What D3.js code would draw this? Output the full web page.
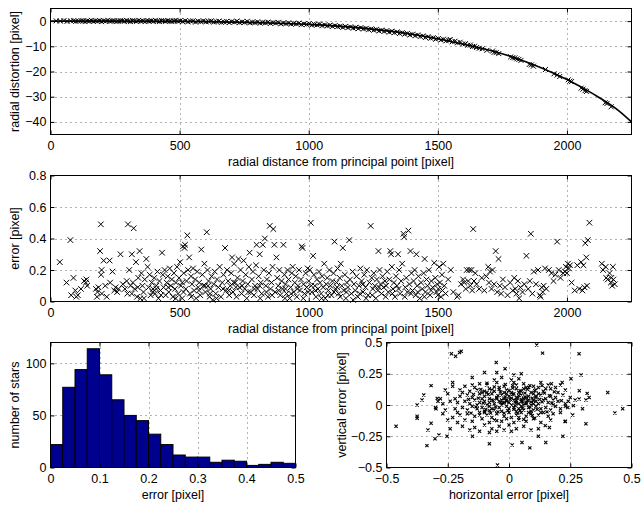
<!DOCTYPE html>
<html>
<head>
<meta charset="utf-8">
<script src="https://cdn.jsdelivr.net/npm/d3@7"></script>
<style>
body { margin: 0; background: #fff; }
svg text { font-family: "Liberation Sans", Arial, Helvetica, sans-serif; font-size: 12.5px; fill: #000; }
</style>
</head>
<body>
<div id="vis"></div>
<script>
// ---- data ----

// fitted distortion curve (radius, distortion)
const curvePoints = [[0,0],[200,0],[400,-0.05],[600,-0.2],[800,-0.6],[1000,-1.3],[1200,-2.7],[1400,-5.2],[1500,-7],
  [1600,-9.2],[1700,-11.6],[1800,-14.6],[1900,-18.5],[2000,-23.2],[2100,-28.8],[2200,-35.5],[2250,-40]];

// measured distortion of the stars (radius, distortion)
const distortionPoints = [[22,0.1],[38,0],[52,0.2],[64,-0.1],[78,0.1],[90,0.2],[98,-0.1],[108,0],[118,0.2],[126,0.1],[134,-0.2],[142,0.1],[150,0],[158,0.3],[166,-0.1],[174,0.1],[182,0],[190,0.2],[198,-0.2],[206,0.1],[214,0],[222,0.3],[230,-0.1],[238,0.1],[246,0.2],[254,-0.2],[262,0],[270,0.2],[278,0.1],[286,-0.1],[294,0.3],[302,0],[310,-0.2],[318,0.2],[326,0.1],[334,-0.1],[342,0.3],[350,0],[358,0.1],[366,-0.2],[374,0.2],[382,0],[390,0.1],[398,-0.1],[406,0.3],[414,0],[422,-0.2],[430,0.2],[438,0.1],[446,-0.1],[454,0.2],[462,0],[470,-0.2],[478,0.1],[486,0.3],[494,-0.1],
  [502,0.1],[512,-0.2],[522,0.2],[532,-0.3],[542,0],[552,0.1],[562,-0.4],[572,0],[582,-0.2],[592,0.1],[602,-0.3],[612,-0.1],[622,0.1],[632,-0.4],[642,-0.2],[652,0],[662,-0.5],[672,-0.3],[682,-0.1],[692,-0.6],[702,-0.2],[712,-0.4],[722,0],[732,-0.6],[742,-0.3],[752,-0.5],[762,-0.1],[772,-0.7],[782,-0.4],[792,-0.6],[802,-0.3],[812,-0.8],[822,-0.5],[832,-0.7],[842,-0.4],[852,-0.9],[862,-0.6],[872,-0.8],[882,-0.5],[892,-1.1],[902,-0.7],[912,-1.0],[922,-0.7],[932,-1.2],[942,-0.9],[952,-1.1],[962,-0.8],[972,-1.4],[982,-1.1],[992,-1.3],
  [1002,-1.0],[1012,-1.6],[1022,-1.3],[1032,-1.5],[1042,-1.2],[1052,-1.8],[1062,-1.5],[1072,-1.9],[1082,-1.6],[1092,-2.1],[1102,-1.8],[1112,-2.2],[1122,-2.0],[1132,-2.5],[1142,-2.1],[1152,-2.6],[1162,-2.3],[1172,-2.8],[1182,-2.5],[1192,-3.0],[1202,-2.6],[1212,-3.1],[1222,-2.9],[1232,-3.4],[1242,-3.1],[1252,-3.6],[1262,-3.3],[1272,-3.9],[1282,-3.6],[1292,-4.1],[1302,-3.8],[1312,-4.4],[1322,-4.0],[1332,-4.6],[1342,-4.3],[1352,-4.9],[1362,-4.6],[1372,-5.2],[1382,-4.9],[1392,-5.5],[1402,-5.2],[1412,-5.8],[1422,-5.5],[1432,-6.1],[1442,-5.9],[1452,-6.5],[1462,-6.2],[1472,-6.8],[1482,-6.6],[1492,-7.2],
  [1502,-6.9],[1512,-7.5],[1522,-7.2],[1532,-7.8],[1542,-7.6],[1548,-7.3],[1556,-8.2],[1566,-8.0],[1576,-8.6],[1586,-8.4],[1596,-9.1],[1606,-9.0],[1616,-9.6],[1626,-9.5],[1634,-10.1],[1642,-10.0],[1650,-10.5],[1660,-10.8],[1672,-11.0],[1690,-11.6],
  [1712,-11.9],[1718,-12.4],[1726,-12.5],[1736,-12.9],[1782,-14.2],[1790,-14.5],[1798,-14.6],[1806,-15.0],[1814,-15.2],[1822,-15.6],[1854,-17.2],[1862,-17.4],[1870,-17.9],[1917,-19.2],[1950,-20.9],[1962,-21.4],[1972,-22.0],[2005,-23.3],[2012,-23.8],[2018,-24.0],[2055,-26.6],[2062,-27.0],[2070,-27.6],[2076,-27.9],[2148,-32.4],[2155,-32.7],[2171,-34.0]];

// residual error of each star (radius, error)
const errorPoints = [[36,0.25],[62,0.12],[77,0.39],[80,0.04],[89,0.15],[96,0.07],[100,0.03],
  [106,0.04],[118,0.08],[130,0.13],[137,0.12],[139,0.14],[142,0.1],[176,0.08],[180,0.03],[182,0.06],[186,0.09],[192,0.32],[195,0.49],[196,0.17],[198,0.2],[199,0.05],
  [206,0.26],[212,0.1],[218,0.03],[229,0.26],[231,0.12],[240,0.19],[247,0.07],[252,0.09],[258,0.06],[263,0.08],[271,0.30],[280,0.11],[288,0.08],[295,0.13],[298,0.05],
  [300,0.49],[305,0.2],[310,0.1],[315,0.3],[319,0.12],[322,0.465],[326,0.08],[331,0.25],[335,0.03],[340,0.15],[345,0.32],[348,0.02],[352,0.18],[356,0.1],[360,0.06],[365,0.14],[371,0.27],[376,0.22],[380,0.09],[384,0.17],[388,0.04],[392,0.12],[397,0.08],
  [402,0.15],[405,0.05],[410,0.1],[414,0.19],[418,0.02],[422,0.13],[426,0.07],[432,0.31],[435,0.17],[438,0.09],[442,0.2],[446,0.04],[450,0.12],[454,0.16],[458,0.06],[462,0.21],[466,0.1],[470,0.14],[474,0.03],[478,0.18],[482,0.08],[486,0.12],[490,0.22],[494,0.05],[498,0.15],
  [502,0.25],[505,0.1],[510,0.02],[513,0.35],[516,0.18],[519,0.34],[521,0.36],[524,0.08],[527,0.13],[530,0.42],[533,0.2],[537,0.28],[540,0.05],[544,0.16],[548,0.11],[552,0.21],[556,0.07],[560,0.14],[564,0.02],[568,0.19],[572,0.09],[576,0.12],[580,0.04],[584,0.33],[588,0.17],[592,0.1],[596,0.24],
  [600,0.06],[605,0.44],[608,0.2],[612,0.13],[616,0.03],[620,0.08],[624,0.16],[628,0.01],[632,0.11],[636,0.19],[640,0.05],[645,0.14],[650,0.09],[655,0.22],[660,0.03],[665,0.12],[670,0.17],[676,0.34],[680,0.07],[684,0.2],[688,0.13],[692,0.04],[696,0.1],
  [700,0.18],[703,0.28],[707,0.06],[711,0.24],[715,0.12],[720,0.03],[724,0.15],[728,0.27],[732,0.09],[736,0.2],[740,0.05],[744,0.13],[748,0.26],[752,0.08],[756,0.17],[760,0.02],[764,0.11],[768,0.22],[771,0.31],[775,0.06],[780,0.14],[784,0.19],[788,0.04],[792,0.1],[796,0.23],
  [798,0.36],[802,0.08],[806,0.16],[810,0.3],[814,0.12],[818,0.05],[822,0.36],[826,0.2],[830,0.40],[834,0.1],[838,0.14],[842,0.03],[846,0.18],[849,0.48],[852,0.08],[856,0.12],[860,0.22],[863,0.46],[867,0.36],[870,0.06],[875,0.28],[878,0.15],[882,0.1],[886,0.2],[890,0.04],[895,0.13],[899,0.08],
  [902,0.36],[906,0.17],[910,0.11],[914,0.05],[918,0.2],[922,0.14],[926,0.02],[930,0.09],[934,0.18],[938,0.22],[942,0.06],[946,0.12],[950,0.16],[954,0.03],[958,0.1],[962,0.2],[966,0.07],[970,0.14],[973,0.35],[976,0.34],[980,0.11],[984,0.05],[988,0.18],[992,0.09],[996,0.21],
  [1000,0.13],[1004,0.2],[1008,0.50],[1012,0.06],[1017,0.29],[1020,0.17],[1024,0.1],[1028,0.03],[1032,0.14],[1036,0.08],[1040,0.19],[1044,0.12],[1048,0.05],[1052,0.16],[1056,0.09],[1060,0.24],[1064,0.02],[1068,0.11],[1072,0.15],[1076,0.07],[1080,0.2],[1084,0.1],[1088,0.04],[1092,0.13],[1096,0.18],
  [1100,0.38],[1104,0.08],[1108,0.12],[1112,0.21],[1116,0.05],[1120,0.15],[1124,0.24],[1128,0.1],[1132,0.34],[1136,0.07],[1140,0.17],[1144,0.02],[1148,0.12],[1152,0.09],[1157,0.39],[1160,0.14],[1165,0.05],[1170,0.19],[1175,0.11],[1180,0.07],[1185,0.16],[1190,0.03],[1195,0.1],
  [1200,0.21],[1205,0.13],[1210,0.06],[1215,0.17],[1220,0.09],[1225,0.2],[1230,0.04],[1235,0.12],[1240,0.48],[1244,0.15],[1248,0.08],[1252,0.18],[1256,0.1],[1260,0.02],[1264,0.14],[1268,0.07],[1270,0.32],[1274,0.2],[1278,0.11],[1282,0.05],[1286,0.16],[1290,0.09],[1295,0.13],
  [1300,0.1],[1304,0.19],[1308,0.06],[1312,0.14],[1316,0.32],[1319,0.30],[1322,0.22],[1326,0.08],[1330,0.12],[1334,0.03],[1338,0.16],[1342,0.1],[1346,0.30],[1350,0.2],[1354,0.05],[1358,0.13],[1362,0.24],[1367,0.43],[1370,0.41],[1374,0.09],[1378,0.15],[1382,0.06],[1386,0.45],[1390,0.11],[1394,0.32],[1398,0.18],
  [1402,0.07],[1406,0.13],[1410,0.2],[1414,0.04],[1417,0.30],[1420,0.1],[1425,0.16],[1430,0.02],[1435,0.12],[1440,0.08],[1445,0.18],[1449,0.27],[1452,0.06],[1456,0.14],[1460,0.1],[1465,0.2],[1470,0.04],[1475,0.13],[1480,0.09],[1486,0.245],[1490,0.15],[1495,0.06],[1498,0.11],
  [1502,0.08],[1505,0.22],[1508,0.12],[1512,0.03],[1516,0.17],[1521,0.24],[1525,0.1],[1530,0.05],[1540,0.14],[1550,0.2],[1560,0.06],[1575,0.03],[1580,0.04],[1590,0.11],[1598,0.14],
  [1602,0.12],[1608,0.08],[1612,0.2],[1618,0.13],[1622,0.2],[1626,0.1],[1630,0.2],[1633,0.07],[1637,0.46],[1640,0.13],[1645,0.18],[1650,0.11],[1660,0.08],[1670,0.15],[1680,0.07],[1688,0.16],[1695,0.22],[1698,0.12],
  [1702,0.19],[1708,0.08],[1712,0.2],[1718,0.11],[1724,0.32],[1730,0.06],[1735,0.27],[1740,0.1],[1745,0.05],[1752,0.14],[1760,0.09],[1770,0.04],[1780,0.12],[1790,0.07],[1796,0.15],
  [1800,0.08],[1805,0.05],[1810,0.13],[1815,0.02],[1820,0.09],[1828,0.06],[1835,0.11],[1843,0.29],[1850,0.08],[1856,0.13],[1860,0.43],[1866,0.05],[1872,0.19],[1880,0.11],[1888,0.2],[1895,0.04],[1898,0.03],
  [1902,0.09],[1906,0.06],[1910,0.1],[1915,0.21],[1920,0.08],[1930,0.2],[1940,0.18],[1948,0.13],[1955,0.17],[1962,0.38],[1968,0.2],[1975,0.15],[1985,0.18],[1992,0.19],[1996,0.22],
  [2000,0.18],[2004,0.24],[2008,0.21],[2012,0.23],[2018,0.12],[2030,0.07],[2040,0.23],[2048,0.08],[2055,0.25],[2060,0.07],[2064,0.23],[2068,0.09],[2071,0.37],[2075,0.28],[2078,0.1],[2081,0.39],[2087,0.50],
  [2135,0.24],[2140,0.2],[2150,0.22],[2152,0.15],[2158,0.14],[2165,0.18],[2170,0.12],[2172,0.15],[2175,0.1],[2178,0.22],[2180,0.14],[2185,0.11],
  [315,0.05],[338,0.09],[362,0.02],[395,0.06],[428,0.04],[456,0.09],[485,0.02],[515,0.06],[545,0.03],[575,0.07],[598,0.1],[618,0.05],[643,0.02],[668,0.08],[690,0.07],[718,0.09],[742,0.1],[766,0.06],[790,0.08],[812,0.02],[836,0.06],[858,0.04],[884,0.07],[908,0.02],[932,0.05],[956,0.08],[979,0.02],[998,0.06],[1026,0.07],[1050,0.02],[1074,0.04],[1098,0.06],[1122,0.03],[1146,0.06],[1172,0.01],[1198,0.05],[1222,0.02],[1246,0.04],[1272,0.09],[1298,0.03],[1324,0.05],[1348,0.08],[1372,0.03],[1396,0.05],[1422,0.06],[1448,0.03],[1474,0.07],[1500,0.04],[1518,0.07],[1210,0.11],[1110,0.09],[1010,0.1],[910,0.08],[810,0.1],[710,0.12],[610,0.1],[510,0.12],[410,0.08]];

// histogram of the error: counts per 0.025 px bin
const histEdges = [0,0.025,0.05,0.075,0.1,0.125,0.15,0.175,0.2,0.225,0.25,0.275,0.3,0.325,0.35,0.375,0.4,0.425,0.45,0.475,0.5];
const histCounts = [22,77,94,114,89,65,50,45,32,22,12,10,10,5,7,6,2,3,5,4];

// horizontal / vertical error of each star
const errorXY = [[0.113,0.48],[0.137,0.415],[-0.235,0.41],[-0.218,0.39],[-0.202,0.42],[-0.195,0.43],[-0.052,0.34],[-0.016,0.29],[0.286,0.41],[0.253,0.21],[0.294,0.24],[0.403,0.10],[0.464,-0.03],[0.432,-0.064],[0.314,-0.15],[-0.461,-0.17],[-0.375,0],[-0.375,-0.09],[-0.375,-0.106],[-0.348,0.08],[-0.355,0.04],[-0.331,-0.2],[-0.335,-0.325],[-0.302,-0.27],[-0.286,-0.24],[-0.293,0.053],[-0.298,-0.03],[-0.318,-0.146],[-0.253,-0.25],[-0.149,-0.25],[-0.08,-0.31],[-0.047,-0.48],[0.013,-0.32],[0.053,-0.30],[0.085,-0.343],[0.12,-0.25],[0.15,-0.30],[0.148,-0.165],[0.165,-0.18],[0.22,-0.25],[0.229,-0.133],[0.23,-0.01],[0.263,-0.005],[0.3,-0.03],[0.319,0.093],[0.327,0.06],[0.314,0.04],[0.287,0.114],[0.286,0.048],[0.242,0.03],[0.214,0.035],[0.217,0.18],[0.173,0.17],[-0.318,0.155],
  [-0.12,0.17],[-0.09,0.16],[-0.05,0.18],[-0.02,0.15],[0.01,0.2],[0.03,0.16],[0.06,0.17],[0.1,0.15],[0.13,0.18],[-0.15,0.16],[0.04,0.21],[-0.03,0.22],[0.02,0.24],[-0.06,0.2],[0.08,0.14],[0.16,0.16],[0.19,0.14],[-0.18,0.15],[-0.2,0.12],[-0.23,0.15],[-0.1,0.26],[0.05,0.25],
  [-0.16,0.11],[-0.13,0.12],[-0.11,0.1],[-0.08,0.13],[-0.06,0.11],[-0.04,0.14],[-0.01,0.12],[0.01,0.1],[0.03,0.13],[0.05,0.11],[0.07,0.14],[0.09,0.1],[0.11,0.12],[0.14,0.11],[0.17,0.13],[-0.14,0.14],[-0.02,0.1],[0.12,0.14],[-0.19,0.1],[0.2,0.1],
  [-0.2,0.07],[-0.17,0.08],[-0.15,0.06],[-0.12,0.09],[-0.1,0.07],[-0.08,0.05],[-0.07,0.09],[-0.05,0.06],[-0.03,0.08],[-0.02,0.05],[0,0.07],[0.02,0.09],[0.03,0.06],[0.05,0.08],[0.06,0.05],[0.08,0.07],[0.1,0.09],[0.11,0.06],[0.13,0.08],[0.15,0.05],[0.17,0.07],[0.19,0.06],[0.22,0.08],[-0.22,0.05],[-0.25,0.09],[-0.09,0.1],[0.04,0.1],[-0.01,0.09],[0.07,0.06],[-0.11,0.05],
  [-0.21,0.02],[-0.18,0.03],[-0.16,0.01],[-0.14,0.04],[-0.12,0.02],[-0.1,0.03],[-0.09,0],[-0.07,0.04],[-0.06,0.01],[-0.04,0.03],[-0.03,0],[-0.01,0.04],[0,0.02],[0.01,0],[0.02,0.04],[0.04,0.01],[0.05,0.03],[0.07,0.02],[0.08,0.04],[0.09,0],[0.11,0.03],[0.12,0.01],[0.14,0.04],[0.16,0.02],[0.18,0],[0.2,0.03],[0.23,0.01],[-0.24,0.03],[-0.27,0.01],[-0.13,0],[0.03,0.02],[-0.05,0.05],[0.06,0],[-0.02,0.02],[0.1,0.01],[-0.08,0.02],
  [-0.22,-0.03],[-0.19,-0.02],[-0.17,-0.04],[-0.15,-0.01],[-0.13,-0.03],[-0.11,-0.02],[-0.1,-0.05],[-0.08,-0.01],[-0.06,-0.04],[-0.04,-0.02],[-0.03,-0.05],[-0.01,-0.01],[0,-0.03],[0.02,-0.02],[0.03,-0.05],[0.05,-0.01],[0.06,-0.04],[0.08,-0.02],[0.1,-0.04],[0.11,-0.01],[0.13,-0.03],[0.15,-0.02],[0.17,-0.04],[0.19,-0.01],[0.21,-0.03],[0.24,-0.02],[-0.26,-0.04],[-0.07,-0.03],[0.04,-0.03],[0.09,-0.05],
  [-0.2,-0.08],[-0.17,-0.07],[-0.14,-0.09],[-0.12,-0.06],[-0.09,-0.08],[-0.07,-0.1],[-0.05,-0.07],[-0.02,-0.09],[0,-0.06],[0.01,-0.1],[0.03,-0.08],[0.05,-0.06],[0.07,-0.09],[0.09,-0.07],[0.12,-0.08],[0.14,-0.06],[0.16,-0.09],[0.18,-0.07],[0.21,-0.06],[-0.23,-0.1],[-0.1,-0.06],[0.04,-0.1],
  [-0.18,-0.12],[-0.15,-0.13],[-0.11,-0.11],[-0.08,-0.14],[-0.06,-0.12],[-0.03,-0.13],[-0.01,-0.11],[0.02,-0.14],[0.04,-0.12],[0.07,-0.13],[0.1,-0.11],[0.13,-0.14],[0.17,-0.12],[-0.21,-0.14],[0.23,-0.13],
  [-0.19,-0.17],[-0.14,-0.18],[-0.1,-0.16],[-0.07,-0.19],[-0.04,-0.17],[-0.02,-0.2],[0,-0.16],[0.03,-0.19],[0.06,-0.17],[0.09,-0.2],[-0.12,-0.21],[-0.08,-0.22],[0.01,-0.21],[-0.05,-0.21],[-0.16,-0.2],[0.12,-0.19],[-0.24,-0.19],
  [-0.28,0.05],[-0.3,-0.02],[-0.26,0.12],[-0.29,0.03],[-0.21,-0.06],[0.27,0.04],[0.26,-0.08],[0.23,0.12],[0.25,0.06],[-0.25,-0.12],[-0.27,-0.07],[-0.23,0.18],[0.21,0.16],[-0.15,0.22],[-0.05,0.26],
  [-0.065,0.035],[-0.045,0.075],[-0.025,0.015],[-0.015,0.065],[0.005,0.045],[0.015,0.085],[0.025,-0.005],[0.035,0.055],[0.045,0.115],[0.055,-0.025],[0.065,0.095],[0.075,0.035],[0.085,-0.015],[0.095,0.055],[0.105,0.115],[0.115,-0.035],[0.125,0.045],[-0.085,0.085],[-0.095,-0.035],[-0.105,0.015],[-0.115,0.125],[-0.075,-0.065],[-0.055,-0.015],[-0.035,0.105],[-0.005,-0.045],[0.015,0.135],[0.035,-0.065],[0.055,0.025],[0.075,0.125],[0.095,-0.085],[0.135,0.025],[0.145,0.095],[0.155,-0.055],[-0.125,0.055],[-0.135,-0.015],[-0.145,0.085],[-0.155,-0.065],[-0.165,0.045],[0.165,0.075],[0.175,0.015],[0.185,0.105],[-0.04,0.125],[-0.02,-0.065],[0,0.115],[0.02,-0.035],[0.04,0.075],[0.06,0.13],[0.08,-0.06],[0.1,0.035],[0.12,0.09],[-0.06,0.145],[-0.08,-0.045],[-0.1,0.11],[-0.12,-0.08],[-0.03,0.04],[-0.01,0.03],[0.01,0.055],[0.03,0.035],[0.05,0.045],[0.07,0.01],[0.09,0.025],[0.025,0.025],[-0.035,0.02],[0.045,-0.045],[0.065,0.065],[-0.045,-0.055],[0.11,0.07],[0.13,-0.06],[0.15,0.13],[-0.07,0.12],[0.015,0.155],[-0.015,0.165],[0.085,0.155],[0.105,-0.105],[-0.05,-0.125],[0.06,-0.115],[0.02,0.18],[-0.09,0.175],[0.135,0.155],[0.18,0.04]];

// axis ticks
const radiusTicks = [0, 500, 1000, 1500, 2000];
const distortionTicks = [0, -10, -20, -30, -40];
const errorTicks = [0, 0.2, 0.4, 0.6, 0.8];
const histXTicks = [0, 0.1, 0.2, 0.3, 0.4, 0.5];
const histYTicks = [0, 50, 100];
const xyTicks = [-0.5, -0.25, 0, 0.25, 0.5];

// ---- drawing ----
const W = 643, H = 506;
const fmt = d3.format('~g');

const svg = d3.select('#vis')
    .append('svg')
    .attr('width', W)
    .attr('height', H);

function crossPath(s) {
    return `M${-s},${-s}L${s},${s}M${-s},${s}L${s},${-s}`;
}

// sets up one axes box, returns scales and a layer for the data
function makePanel(box, xDomain, yDomain, xTicks, yTicks, xTitle, yTitle, yTitleX) {
    const x = d3.scaleLinear().domain(xDomain).range([box.x0, box.x1]);
    const y = d3.scaleLinear().domain(yDomain).range([box.y1, box.y0]);
    const g = svg.append('g');

    // dotted grid
    const grid = g.append('g');
    grid.selectAll('.gx')
        .data(xTicks.filter(t => t !== xDomain[0] && t !== xDomain[1]))
        .enter().append('line')
        .attr('x1', d => Math.round(x(d)) + 0.5).attr('x2', d => Math.round(x(d)) + 0.5)
        .attr('y1', box.y0).attr('y2', box.y1);
    grid.selectAll('.gy')
        .data(yTicks.filter(t => t !== yDomain[0] && t !== yDomain[1]))
        .enter().append('line')
        .attr('y1', d => Math.round(y(d)) + 0.5).attr('y2', d => Math.round(y(d)) + 0.5)
        .attr('x1', box.x0).attr('x2', box.x1);
    grid.selectAll('line')
        .attr('stroke', '#666')
        .attr('stroke-width', 1)
        .attr('stroke-dasharray', '1,4');

    const data = g.append('g');
    const axes = g.append('g');

    axes.append('g')
        .attr('transform', `translate(0,${box.y1})`)
        .call(d3.axisBottom(x).tickValues(xTicks).tickSize(-4).tickPadding(6.5).tickFormat(fmt));
    axes.append('g')
        .attr('transform', `translate(0,${box.y0})`)
        .call(d3.axisTop(x).tickValues(xTicks).tickSize(-4).tickFormat(''));
    axes.append('g')
        .attr('transform', `translate(${box.x0},0)`)
        .call(d3.axisLeft(y).tickValues(yTicks).tickSize(-4).tickPadding(4).tickFormat(fmt));
    axes.append('g')
        .attr('transform', `translate(${box.x1},0)`)
        .call(d3.axisRight(y).tickValues(yTicks).tickSize(-4).tickFormat(''));
    axes.selectAll('.domain').remove();
    axes.selectAll('.tick line').attr('stroke', '#000');

    axes.append('rect')
        .attr('x', box.x0).attr('y', box.y0)
        .attr('width', box.x1 - box.x0).attr('height', box.y1 - box.y0)
        .attr('fill', 'none')
        .attr('stroke', '#000')
        .attr('stroke-width', 1);

    // titles
    g.append('text')
        .attr('x', (box.x0 + box.x1) / 2)
        .attr('y', box.y1 + 31)
        .attr('text-anchor', 'middle')
        .text(xTitle);
    g.append('text')
        .attr('transform', `translate(${yTitleX},${(box.y0 + box.y1) / 2}) rotate(-90)`)
        .attr('text-anchor', 'middle')
        .text(yTitle);

    return { x, y, data };
}

// radial distortion
const p1 = makePanel({ x0: 50.5, x1: 631.5, y0: 8.5, y1: 134.5 },
    [0, 2250], [-45, 5], radiusTicks, distortionTicks,
    'radial distance from principal point [pixel]', 'radial distortion [pixel]', 19);

p1.data.selectAll('.m')
    .data(distortionPoints)
    .enter().append('path')
    .attr('d', crossPath(2.5))
    .attr('transform', d => `translate(${p1.x(d[0])},${p1.y(d[1])})`)
    .attr('stroke', '#000')
    .attr('stroke-width', 1)
    .attr('fill', 'none');

const curveLine = d3.line()
    .x(d => p1.x(d[0]))
    .y(d => p1.y(d[1]))
    .curve(d3.curveMonotoneX);

p1.data.append('path')
    .attr('d', curveLine(curvePoints))
    .attr('stroke', '#000')
    .attr('stroke-width', 1.6)
    .attr('fill', 'none');

// residual error vs radius
const p2 = makePanel({ x0: 50.5, x1: 631.5, y0: 175.5, y1: 301.5 },
    [0, 2250], [0, 0.8], radiusTicks, errorTicks,
    'radial distance from principal point [pixel]', 'error [pixel]', 19);

p2.data.selectAll('.m')
    .data(errorPoints)
    .enter().append('path')
    .attr('d', crossPath(2.8))
    .attr('transform', d => `translate(${p2.x(d[0])},${p2.y(d[1])})`)
    .attr('stroke', '#000')
    .attr('stroke-width', 1)
    .attr('fill', 'none');

// histogram
const p3 = makePanel({ x0: 50.5, x1: 295.5, y0: 342.5, y1: 467.5 },
    [0, 0.5], [0, 120], histXTicks, histYTicks,
    'error [pixel]', 'number of stars', 19);

p3.data.selectAll('rect')
    .data(histCounts)
    .enter().append('rect')
    .attr('x', (d, i) => p3.x(histEdges[i]))
    .attr('width', (d, i) => p3.x(histEdges[i + 1]) - p3.x(histEdges[i]))
    .attr('y', d => p3.y(d))
    .attr('height', d => p3.y(0) - p3.y(d))
    .attr('fill', '#00008f')
    .attr('stroke', '#000')
    .attr('stroke-width', 1);

// horizontal vs vertical error
const p4 = makePanel({ x0: 386.5, x1: 631.5, y0: 342.5, y1: 467.5 },
    [-0.5, 0.5], [-0.5, 0.5], xyTicks, xyTicks,
    'horizontal error [pixel]', 'vertical error [pixel]', 346);

p4.data.selectAll('.m')
    .data(errorXY)
    .enter().append('path')
    .attr('d', crossPath(1.6))
    .attr('transform', d => `translate(${p4.x(d[0])},${p4.y(d[1])})`)
    .attr('stroke', '#000')
    .attr('stroke-width', 1.1)
    .attr('fill', 'none');
</script>
</body>
</html>
